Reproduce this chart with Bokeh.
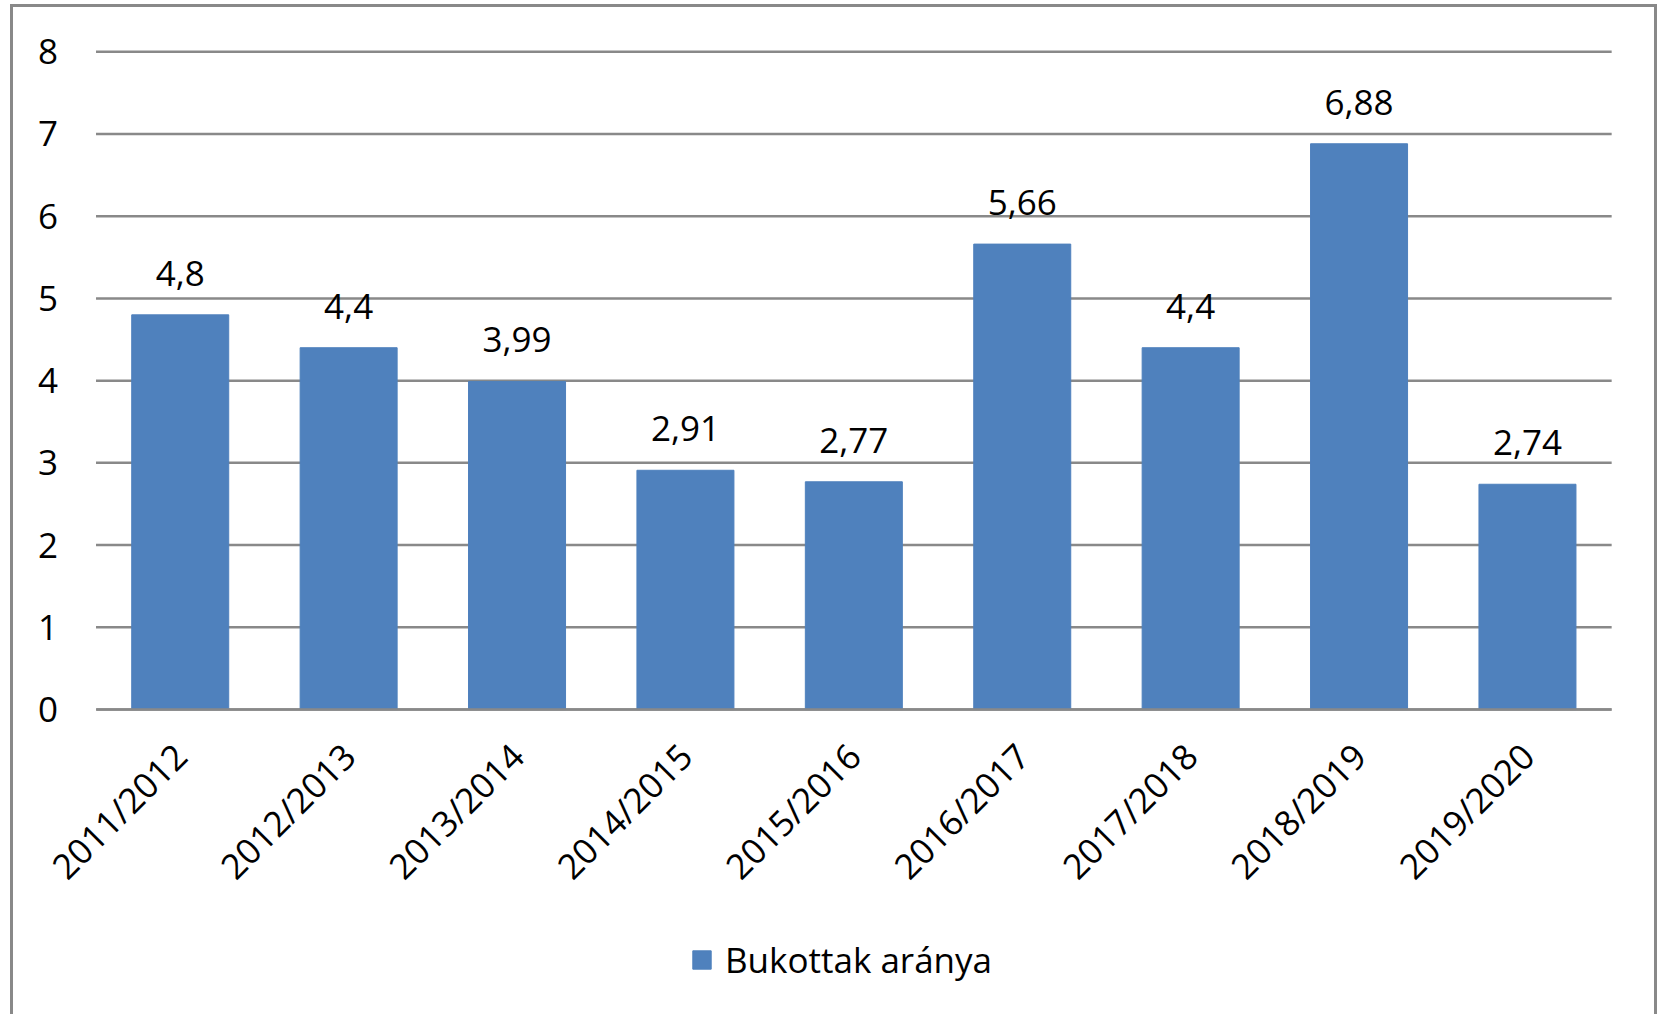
import math
from bokeh.plotting import figure
from bokeh.models import (ColumnDataSource, LabelSet, Legend, LegendItem,
                          FixedTicker, Range1d)
from bokeh.core.properties import value
from bokeh.embed import file_html
from bokeh.resources import INLINE

categories = ["2011/2012", "2012/2013", "2013/2014", "2014/2015", "2015/2016",
              "2016/2017", "2017/2018", "2018/2019", "2019/2020"]
values = [4.8, 4.4, 3.99, 2.91, 2.77, 5.66, 4.4, 6.88, 2.74]
series_name = "Bukottak aránya"
y_ticks = [0, 1, 2, 3, 4, 5, 6, 7, 8]

FONT = "Open Sans"
FS = "35px"
BAR = "#4F81BD"
GRID = "#898989"

pos = list(range(len(categories)))
labels = [("%g" % v).replace(".", ",") for v in values]
src = ColumnDataSource(dict(x=pos, cat=categories, val=values, lab=labels))

# the frame covers the whole canvas; axes are pinned inside it so nothing is clipped
p = figure(x_range=Range1d(-0.99, 8.79), y_range=Range1d(-3.744, 8.537),
           width=1647, height=1010,
           output_backend="svg", toolbar_location=None,
           min_border_left=0, min_border_right=0, min_border_top=0,
           min_border_bottom=0,
           styles={"border-left": f"3px solid {GRID}",
                   "border-top": f"3px solid {GRID}",
                   "border-right": f"3px solid {GRID}",
                   "margin-left": "10px", "margin-top": "4px"})
p.outline_line_color = None
p.background_fill_color = "white"

xlo, xhi = -0.5, len(categories) - 0.5

# horizontal grid lines limited to the plot area, one per y tick
p.segment(x0=[xlo] * len(y_ticks), x1=[xhi] * len(y_ticks),
          y0=y_ticks, y1=y_ticks, line_color=GRID, line_width=2.5)

r = p.vbar(x="x", top="val", bottom=0, width=0.576, source=src,
           fill_color=BAR, line_color=BAR)

p.add_layout(LabelSet(x="x", y="val", text="lab", source=src,
                      text_align="center", text_baseline="alphabetic",
                      y_offset=29, text_font=value(FONT), text_font_size=value(FS),
                      text_color="#000000"))

p.xgrid.grid_line_color = None
p.ygrid.grid_line_color = None

p.yaxis.fixed_location = xlo
p.yaxis.ticker = FixedTicker(ticks=y_ticks)
p.yaxis.axis_line_color = None
p.yaxis.major_tick_line_color = None
p.yaxis.minor_tick_line_color = None
p.yaxis.major_label_standoff = 32
p.yaxis.major_label_text_font = FONT
p.yaxis.major_label_text_font_size = FS
p.yaxis.major_label_text_color = "#000000"

p.xaxis.fixed_location = 0
p.xaxis.bounds = (xlo, xhi)
p.xaxis.ticker = FixedTicker(ticks=pos)
p.xaxis.major_label_overrides = {i: c for i, c in zip(pos, categories)}
p.xaxis.axis_line_color = GRID
p.xaxis.axis_line_width = 2.5
p.xaxis.major_tick_line_color = None
p.xaxis.minor_tick_line_color = None
p.xaxis.major_label_orientation = math.pi / 4
p.xaxis.major_label_standoff = 34
p.xaxis.major_label_text_font = FONT
p.xaxis.major_label_text_font_size = FS
p.xaxis.major_label_text_color = "#000000"

legend = Legend(items=[LegendItem(label=series_name, renderers=[r])],
                location=(677, 34), orientation="horizontal",
                padding=0, margin=0, spacing=0,
                glyph_width=23, glyph_height=23, label_standoff=12,
                label_text_font=FONT, label_text_font_size=FS,
                label_text_color="#000000",
                border_line_color=None, background_fill_alpha=0)
p.add_layout(legend)

open("out.html", "w").write(file_html(p, INLINE))
